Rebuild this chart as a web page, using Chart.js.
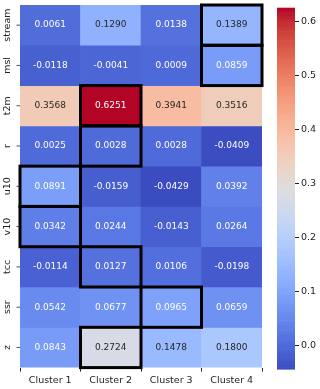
<!DOCTYPE html>
<html>
<head>
<meta charset="utf-8">
<script src="https://cdn.jsdelivr.net/npm/chart.js@4"></script>
<style>
  body { margin: 0; background: #fff; }
  #wrap { position: relative; width: 320px; height: 389px; }
  #heat { position: absolute; left: 0; top: 0; }
  #cbar { position: absolute; left: 262px; top: 0; }
</style>
</head>
<body>
<div id="wrap">
  <canvas id="heat" width="266" height="389"></canvas>
  <canvas id="cbar" width="58" height="389"></canvas>
</div>
<script>
// heatmap data
let rows = ['stream', 'msl', 't2m', 'r', 'u10', 'v10', 'tcc', 'ssr', 'z'];
let clusters = ['Cluster 1', 'Cluster 2', 'Cluster 3', 'Cluster 4'];
let cluster1 = [0.0061, -0.0118, 0.3568, 0.0025, 0.0891, 0.0342, -0.0114, 0.0542, 0.0843];
let cluster2 = [0.1290, -0.0041, 0.6251, 0.0028, -0.0159, 0.0244, 0.0127, 0.0677, 0.2724];
let cluster3 = [0.0138, 0.0009, 0.3941, 0.0028, -0.0429, -0.0143, 0.0106, 0.0965, 0.1478];
let cluster4 = [0.1389, 0.0859, 0.3516, -0.0409, 0.0392, 0.0264, -0.0198, 0.0659, 0.1800];
// column of the boxed cell in each row
let boxedCol = [3, 3, 1, 1, 0, 0, 1, 2, 1];
let cbarTicks = [0.0, 0.1, 0.2, 0.3, 0.4, 0.5, 0.6];

let cols = [cluster1, cluster2, cluster3, cluster4];
let matrix = rows.map((r, i) => cols.map(c => c[i]));
let all = [].concat(cluster1, cluster2, cluster3, cluster4);
let vmin = Math.min(...all);
let vmax = Math.max(...all);

// coolwarm anchors
let cw = [
  [59,76,192],[68,90,204],[77,104,215],[87,117,225],[98,130,234],[108,142,241],
  [119,154,247],[130,165,251],[141,176,254],[152,185,255],[163,194,255],[174,201,253],
  [184,208,249],[194,213,244],[204,217,238],[213,219,230],[221,221,221],[229,216,209],
  [236,211,197],[241,204,185],[245,196,173],[247,187,160],[247,177,148],[247,166,135],
  [244,154,123],[241,141,111],[236,127,99],[229,112,88],[222,96,77],[213,80,66],
  [203,62,56],[192,40,47],[180,4,38]
];
function cwRgb(v) {
  let t = (v - vmin) / (vmax - vmin);
  t = Math.max(0, Math.min(1, t)) * (cw.length - 1);
  let i = Math.min(Math.floor(t), cw.length - 2);
  let f = t - i;
  return cw[i].map((a, k) => Math.round(a + (cw[i + 1][k] - a) * f));
}
function cwColor(v) {
  let c = cwRgb(v);
  return `rgb(${c[0]},${c[1]},${c[2]})`;
}
function textColor(v) {
  let lin = cwRgb(v).map(x => {
    x = x / 255;
    return x <= 0.03928 ? x / 12.92 : Math.pow((x + 0.055) / 1.055, 2.4);
  });
  let lum = 0.2126 * lin[0] + 0.7152 * lin[1] + 0.0722 * lin[2];
  return lum > 0.408 ? '#262626' : '#ffffff';
}

let font = 'DejaVu Sans';

let cellPlugin = {
  id: 'cells',
  afterDatasetsDraw(chart) {
    let ctx = chart.ctx;
    let xs = chart.scales.x;
    let ys = chart.scales.y;
    let half = (xs.getPixelForValue(1) - xs.getPixelForValue(0)) / 2;
    ctx.save();
    // boxes
    ctx.strokeStyle = '#000';
    ctx.lineWidth = 3;
    boxedCol.forEach(function(c, r) {
      let x0 = xs.getPixelForValue(c) - half;
      let y0 = ys.getPixelForValue(r);
      let y1 = ys.getPixelForValue(r + 1);
      ctx.strokeRect(x0, y0, half * 2, y1 - y0);
    });
    // numbers
    ctx.font = '9px "' + font + '"';
    ctx.textAlign = 'center';
    ctx.textBaseline = 'middle';
    matrix.forEach(function(row, r) {
      row.forEach(function(v, c) {
        ctx.fillStyle = textColor(v);
        ctx.fillText(v.toFixed(4), xs.getPixelForValue(c), ys.getPixelForValue(r + 0.5));
      });
    });
    // y tick marks + rotated labels
    ctx.font = '9.5px "' + font + '"';
    ctx.fillStyle = '#222';
    ctx.strokeStyle = '#222';
    ctx.lineWidth = 0.8;
    rows.forEach(function(name, r) {
      let y = ys.getPixelForValue(r + 0.5);
      ctx.beginPath();
      ctx.moveTo(chart.chartArea.left - 3.5, y);
      ctx.lineTo(chart.chartArea.left, y);
      ctx.stroke();
      ctx.save();
      ctx.translate(chart.chartArea.left - 12.5, y);
      ctx.rotate(-Math.PI / 2);
      ctx.fillText(name, 0, 0);
      ctx.restore();
    });
    ctx.restore();
  }
};

let heatDatasets = rows.map(function(name, r) {
  return {
    label: name,
    data: clusters.map(() => [r, r + 1]),
    backgroundColor: matrix[r].map(v => cwColor(v)),
    borderWidth: 0,
    grouped: false,
    barPercentage: 1,
    categoryPercentage: 1
  };
});

new Chart(document.getElementById('heat'), {
  type: 'bar',
  data: { labels: clusters, datasets: heatDatasets },
  options: {
    responsive: false,
    animation: false,
    layout: { padding: { left: 20, top: 5, right: 4, bottom: 0 } },
    plugins: { legend: { display: false }, tooltip: { enabled: false } },
    scales: {
      x: {
        grid: { drawOnChartArea: false, tickLength: 4, color: '#222' },
        border: { display: false },
        ticks: { color: '#222', padding: 3, font: { family: font, size: 9.5 }, maxRotation: 0 }
      },
      y: { display: false, min: 0, max: 9, reverse: true }
    }
  },
  plugins: [cellPlugin]
});

// colour bar
let gradPlugin = {
  id: 'grad',
  beforeDatasetsDraw(chart) {
    let ctx = chart.ctx;
    let ys = chart.scales.y;
    let a = chart.chartArea;
    let n = 200;
    for (let i = 0; i < n; i++) {
      let v0 = vmin + (vmax - vmin) * i / n;
      let v1 = vmin + (vmax - vmin) * (i + 1) / n;
      let p0 = ys.getPixelForValue(v0);
      let p1 = ys.getPixelForValue(v1);
      ctx.fillStyle = cwColor((v0 + v1) / 2);
      ctx.fillRect(a.left, p1, a.right - a.left, p0 - p1 + 0.6);
    }
  }
};

new Chart(document.getElementById('cbar'), {
  type: 'scatter',
  data: { datasets: [{ data: [] }] },
  options: {
    responsive: false,
    animation: false,
    layout: { padding: { left: 15, top: 5, right: 0, bottom: 20 } },
    plugins: { legend: { display: false }, tooltip: { enabled: false } },
    scales: {
      x: { display: false, min: 0, max: 1 },
      y: {
        position: 'right',
        min: vmin,
        max: vmax,
        afterBuildTicks: function(scale) {
          scale.ticks = cbarTicks.map(v => ({ value: v }));
        },
        afterFit: function(scale) { scale.width = 25; },
        grid: { drawOnChartArea: false, tickLength: 4, color: '#222' },
        border: { display: false },
        ticks: {
          color: '#222',
          padding: 2,
          font: { family: font, size: 9.5 },
          callback: v => v.toFixed(1)
        }
      }
    }
  },
  plugins: [gradPlugin]
});
</script>
</body>
</html>
